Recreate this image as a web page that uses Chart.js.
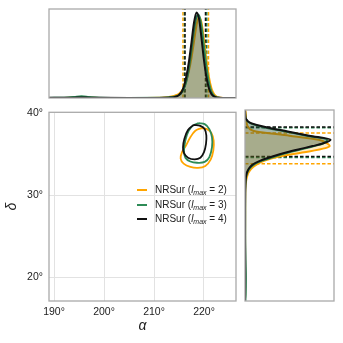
<!DOCTYPE html>
<html lang="en">
<head>
<meta charset="UTF-8">
<title>Sky position posterior</title>
<script src="https://cdn.jsdelivr.net/npm/chart.js"></script>
<style>
  body { margin: 0; background: #fff; }
  #wrap { position: relative; width: 343px; height: 343px; overflow: hidden; }
  canvas { position: absolute; }
  #legend { position: absolute; left: 137px; top: 183px; font: 10px "Liberation Sans", Arial, sans-serif; color: #222; }
  #legend .row { display: block; height: 14.5px; line-height: 14.5px; white-space: nowrap; }
  #legend .swatch { display: inline-block; width: 10px; height: 2px; margin-right: 8px; vertical-align: middle; }
  #legend sub { font-size: 7px; vertical-align: -2px; line-height: 0; }
</style>
</head>
<body>
<div id="wrap">
  <canvas id="top" width="243" height="100" style="left:0;top:0"></canvas>
  <canvas id="main" width="243" height="243" style="left:0;top:100px"></canvas>
  <canvas id="side" width="100" height="243" style="left:243px;top:100px"></canvas>
  <div id="legend"></div>
</div>
<script>
// ---- data ----
const runLabels = ['NRSur (l_max = 2)', 'NRSur (l_max = 3)', 'NRSur (l_max = 4)'];
const runLmax = [2, 3, 4];
const runColors = ['#ffa500', '#2e8b57', '#111111'];
const runFills = ['rgba(255,165,0,0.22)', 'rgba(46,139,87,0.22)', 'rgba(17,17,17,0.22)'];

const raTicks = [190, 200, 210, 220];
const decTicks = [20, 30, 40];

// 90% contours (alpha, delta in degrees)
const orangeContourRa  = [219.47, 220.6, 221.47, 221.93, 221.87, 221.33, 220.27, 218.8, 217.27, 215.93, 215.33, 215.6, 216.4, 217.27, 218.27, 219.47];
const orangeContourDec = [38.16, 38.04, 37.56, 36.64, 35.44, 34.32, 33.56, 33.32, 33.44, 33.84, 34.44, 35.24, 36.04, 37.04, 37.84, 38.16];
const greenContourRa   = [218.93, 220.13, 221.07, 221.6, 221.6, 221.07, 220.13, 218.6, 217.27, 216.27, 216.0, 216.27, 216.93, 217.93, 218.93];
const greenContourDec  = [38.76, 38.64, 38.04, 37.04, 35.84, 34.64, 34.05, 33.95, 34.1, 34.56, 35.44, 36.64, 37.84, 38.52, 38.76];
const blackContourRa   = [217.93, 219.27, 220.13, 220.47, 220.4, 220.0, 219.27, 218.13, 216.8, 216.0, 215.8, 216.07, 216.8, 217.93];
const blackContourDec  = [38.56, 38.44, 38.04, 37.24, 36.24, 35.24, 34.56, 34.36, 34.56, 35.12, 35.84, 36.84, 37.92, 38.56];

// alpha marginal
const raGrid = [189, 192, 194, 195.5, 197, 199, 205, 211, 212, 213, 214, 214.5, 215, 215.5, 216, 216.5, 217, 217.5, 218, 218.5, 219, 219.5, 220, 220.5, 221, 221.5, 222, 222.5, 223, 224, 226.4];
const orangeRaDensity = [0.001, 0.001, 0.002, 0.003, 0.002, 0.001, 0.001, 0.003, 0.006, 0.012, 0.025, 0.035, 0.05, 0.08, 0.13, 0.21, 0.32, 0.47, 0.66, 0.85, 0.95, 0.88, 0.68, 0.44, 0.24, 0.11, 0.045, 0.018, 0.006, 0.001, 0];
const greenRaDensity  = [0.001, 0.004, 0.012, 0.02, 0.012, 0.003, 0.001, 0.002, 0.004, 0.008, 0.015, 0.022, 0.035, 0.06, 0.11, 0.2, 0.35, 0.56, 0.79, 0.95, 0.97, 0.84, 0.6, 0.36, 0.18, 0.075, 0.028, 0.01, 0.004, 0.001, 0];
const blackRaDensity  = [0.002, 0.002, 0.004, 0.006, 0.004, 0.002, 0.001, 0.001, 0.002, 0.004, 0.01, 0.018, 0.035, 0.07, 0.14, 0.26, 0.43, 0.65, 0.88, 1.0, 0.93, 0.7, 0.44, 0.24, 0.11, 0.045, 0.018, 0.007, 0.003, 0.001, 0];
const raBounds = [[215.8, 220.9], [216.1, 220.55], [216.2, 220.3]];

// delta marginal
const decGrid = [17.15, 18, 20, 22, 25, 28, 30, 31, 31.5, 32, 32.5, 33, 33.5, 34, 34.5, 35, 35.5, 35.75, 36, 36.5, 37, 37.5, 38, 38.5, 39, 39.5, 40.08];
const orangeDecDensity = [0, 0.001, 0.001, 0.001, 0.001, 0.002, 0.003, 0.006, 0.012, 0.022, 0.038, 0.07, 0.13, 0.23, 0.4, 0.69, 0.94, 0.99, 0.97, 0.86, 0.52, 0.13, 0.04, 0.02, 0.012, 0.01, 0.005];
const greenDecDensity  = [0.004, 0.008, 0.01, 0.006, 0.002, 0.002, 0.002, 0.004, 0.007, 0.012, 0.024, 0.05, 0.1, 0.2, 0.35, 0.52, 0.72, 0.81, 0.9, 0.96, 0.72, 0.47, 0.22, 0.06, 0.01, 0.003, 0];
const blackDecDensity  = [0, 0.001, 0.002, 0.002, 0.001, 0.001, 0.002, 0.004, 0.006, 0.01, 0.02, 0.042, 0.085, 0.18, 0.32, 0.49, 0.69, 0.79, 0.89, 1.0, 0.75, 0.5, 0.25, 0.07, 0.012, 0.003, 0];
const decBounds = [[33.64, 37.32], [34.38, 37.95], [34.5, 38.04]];

// ---- helpers ----
const FONT = '"Liberation Sans", Arial, sans-serif';
const RA_MIN = 189, RA_MAX = 226.4, DEC_MIN = 17.15, DEC_MAX = 40.08, DENS_MAX = 1.04;

const zip = (xs, ys) => xs.map((x, i) => ({ x: x, y: ys[i] }));

const framePlugin = {
    id: 'frame',
    afterDraw(chart) {
        const { ctx, chartArea: a } = chart;
        ctx.save();
        ctx.strokeStyle = '#aaaaaa';
        ctx.lineWidth = 1.3;
        ctx.strokeRect(a.left, a.top, a.right - a.left, a.bottom - a.top);
        ctx.restore();
    }
};

const baseOptions = (padding) => ({
    responsive: false,
    animation: false,
    layout: { padding: padding },
    plugins: { legend: { display: false }, tooltip: { enabled: false } }
});

// ---- main panel: contours ----
const contours = [
    zip(blackContourRa, blackContourDec),
    zip(greenContourRa, greenContourDec),
    zip(orangeContourRa, orangeContourDec)
];
const mainOpts = baseOptions({ top: 10, right: 7, left: 0, bottom: 0 });
mainOpts.scales = {
    x: {
        type: 'linear', min: RA_MIN, max: RA_MAX,
        afterBuildTicks: s => { s.ticks = raTicks.map(v => ({ value: v })); },
        afterFit: s => { s.height = 42; },
        grid: { color: '#e2e2e2', drawTicks: false },
        border: { display: false },
        ticks: { padding: 5, color: '#222', font: { family: FONT, size: 10.5 }, callback: v => v + '°' },
        title: { display: true, text: 'α', color: '#222', font: { family: FONT, size: 14, style: 'italic' }, padding: { top: 0, bottom: 8 } }
    },
    y: {
        type: 'linear', min: DEC_MIN, max: DEC_MAX,
        afterBuildTicks: s => { s.ticks = decTicks.map(v => ({ value: v })); },
        afterFit: s => { s.width = 49; },
        grid: { color: '#e2e2e2', drawTicks: false },
        border: { display: false },
        ticks: { padding: 6, color: '#222', font: { family: FONT, size: 10.5 }, callback: v => v + '°' },
        title: { display: true, text: 'δ', color: '#222', font: { family: FONT, size: 14, style: 'italic' }, padding: { top: 4, bottom: 0 } }
    }
};
new Chart(document.getElementById('main'), {
    type: 'scatter',
    data: {
        datasets: contours.map((pts, i) => ({
            data: pts,
            showLine: true,
            borderColor: runColors[2 - i],
            borderWidth: 1.8,
            pointRadius: 0,
            tension: 0.4,
            fill: false
        }))
    },
    options: mainOpts,
    plugins: [framePlugin]
});

// ---- top panel: alpha marginal ----
const raDens = [orangeRaDensity, greenRaDensity, blackRaDensity];
const topSets = [];
for (let i = 2; i >= 0; i--) {
    topSets.push({
        data: zip(raGrid, raDens[i]),
        borderColor: runColors[i], backgroundColor: runFills[i],
        borderWidth: 2, pointRadius: 0, fill: 'origin', cubicInterpolationMode: 'monotone'
    });
}
for (let i = 2; i >= 0; i--) {
    raBounds[i].forEach(b => topSets.push({
        data: [{ x: b, y: 0 }, { x: b, y: DENS_MAX }],
        borderColor: runColors[i], borderWidth: 1.5, borderDash: [3.5, 2],
        pointRadius: 0, fill: false
    }));
}
const topOpts = baseOptions({ top: 9, right: 7, left: 49, bottom: 2 });
topOpts.scales = {
    x: { type: 'linear', min: RA_MIN, max: RA_MAX, display: false },
    y: { type: 'linear', min: 0, max: DENS_MAX, display: false }
};
new Chart(document.getElementById('top'), {
    type: 'line',
    data: { datasets: topSets },
    options: topOpts,
    plugins: [framePlugin]
});

// ---- side panel: delta marginal ----
const decDens = [orangeDecDensity, greenDecDensity, blackDecDensity];
const sideSets = [];
for (let i = 2; i >= 0; i--) {
    sideSets.push({
        data: decGrid.map((d, k) => ({ x: decDens[i][k], y: d })),
        borderColor: runColors[i], backgroundColor: runFills[i],
        borderWidth: 2, pointRadius: 0, fill: 'origin', cubicInterpolationMode: 'monotone'
    });
}
for (let i = 2; i >= 0; i--) {
    decBounds[i].forEach(b => sideSets.push({
        data: [{ x: 0, y: b }, { x: DENS_MAX, y: b }],
        borderColor: runColors[i], borderWidth: 1.5, borderDash: [3.5, 2],
        pointRadius: 0, fill: false
    }));
}
const sideOpts = baseOptions({ top: 10, right: 9, left: 2, bottom: 42 });
sideOpts.indexAxis = 'y';
sideOpts.scales = {
    x: { type: 'linear', min: 0, max: DENS_MAX, display: false },
    y: { type: 'linear', min: DEC_MIN, max: DEC_MAX, display: false }
};
new Chart(document.getElementById('side'), {
    type: 'line',
    data: { datasets: sideSets },
    options: sideOpts,
    plugins: [framePlugin]
});

// ---- legend ----
const legend = document.getElementById('legend');
runLabels.forEach((label, i) => {
    const row = document.createElement('div');
    row.className = 'row';
    row.title = label;
    row.innerHTML = '<span class="swatch" style="background:' + runColors[i] + '"></span>' +
        '<span>NRSur (<i>l</i><sub><i>max</i></sub>&nbsp;=&nbsp;' + runLmax[i] + ')</span>';
    legend.appendChild(row);
});
</script>
</body>
</html>
